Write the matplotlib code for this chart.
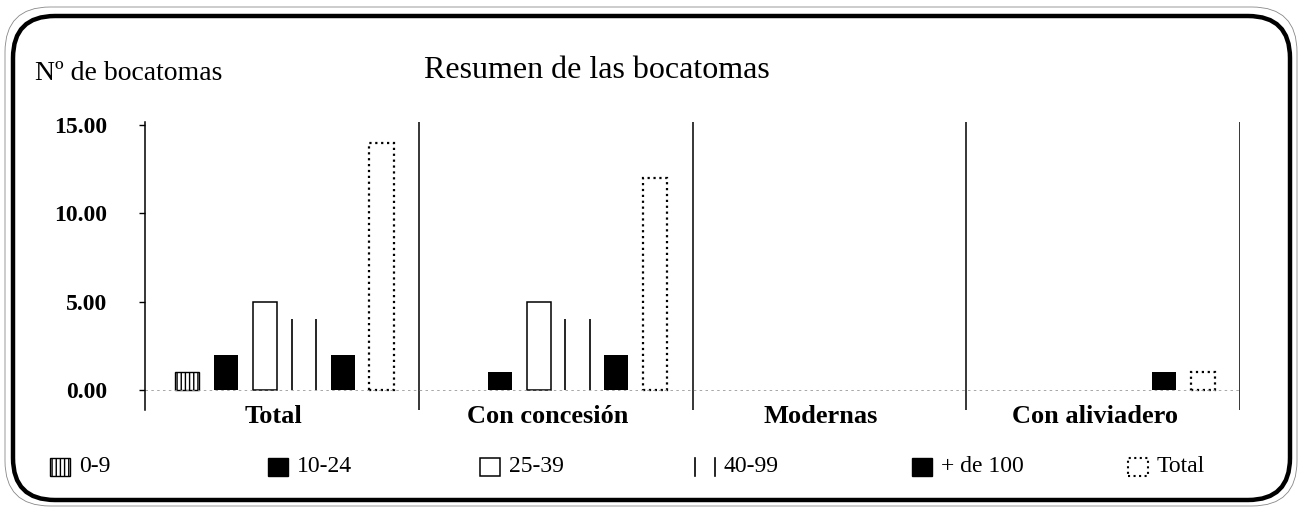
import matplotlib
matplotlib.use("Agg")
import matplotlib.pyplot as plt
from matplotlib.patches import FancyBboxPatch, Rectangle
from matplotlib.lines import Line2D
import numpy as np

plt.rcParams['font.family'] = ['Liberation Serif', 'DejaVu Serif']

# data
groups = ['Total', 'Con concesión', 'Modernas', 'Con aliviadero']
series = ['0-9', '10-24', '25-39', '40-99', '+ de 100', 'Total']
vals_0_9 = [1, 0, 0, 0]
vals_10_24 = [2, 1, 0, 0]
vals_25_39 = [5, 5, 0, 0]
vals_40_99 = [4, 4, 0, 0]
vals_100 = [2, 2, 0, 1]
vals_total = [14, 12, 0, 1]
yticks = [0, 5, 10, 15]

W, H = 1300, 509
fig = plt.figure(figsize=(13, 5.09), dpi=100)

# rounded frame
frame = FancyBboxPatch((0.13, 0.09), 12.77, 4.84, boxstyle="round,pad=0,rounding_size=0.42",
                       transform=fig.dpi_scale_trans, fill=False, lw=3.2, ec='black')
fig.add_artist(frame)
outer = FancyBboxPatch((0.05, 0.03), 12.92, 4.99, boxstyle="round,pad=0,rounding_size=0.45",
                       transform=fig.dpi_scale_trans, fill=False, lw=0.6, ec='#888888')
fig.add_artist(outer)

ax = fig.add_axes([145 / W, (H - 410) / H, (1240 - 145) / W, (410 - 122) / H])
ax.set_xlim(0, 4)
ax.set_ylim(-1.13, 15.17)

x = np.arange(len(groups))
off, step, bw = 0.11, 0.142, 0.088

def pos(i):
    return x + off + i * step

b0 = ax.bar(pos(0), vals_0_9, bw, align='edge', facecolor='white', edgecolor='black', hatch='||||', lw=1)
b1 = ax.bar(pos(1), vals_10_24, bw, align='edge', color='black')
b2 = ax.bar(pos(2), vals_25_39, bw, align='edge', facecolor='white', edgecolor='black', lw=1.1)
b3 = ax.bar(pos(3), vals_40_99, bw, align='edge', facecolor='none', edgecolor='none')
for r in b3:
    if r.get_height() > 0:
        ax.vlines([r.get_x(), r.get_x() + r.get_width()], 0, r.get_height(), color='black', lw=1.2)
b4 = ax.bar(pos(4), vals_100, bw, align='edge', color='black')
b5 = ax.bar(pos(5), vals_total, bw, align='edge', facecolor='white', edgecolor='black', lw=1.6, ls=':')
for bars in (b0, b1, b2, b3, b4, b5):
    for r in bars:
        if r.get_height() == 0:
            r.set_visible(False)

# group dividers
for g in range(1, 5):
    ax.axvline(g, color='black', lw=1.1)
ax.axhline(0, color='#999999', lw=0.6, ls=(0, (3, 4)))

for s in ['top', 'right', 'bottom']:
    ax.spines[s].set_visible(False)
ax.spines['left'].set_linewidth(1.1)
ax.set_xticks([])
ax.set_yticks(yticks)
ax.set_yticklabels(['%.2f' % v for v in yticks], fontsize=17, fontweight='bold')
ax.tick_params(axis='y', length=4, width=1, pad=23)

for i, g in enumerate(groups):
    ax.text(i + 0.47, -1.5, g, ha='center', va='center', fontsize=19, fontweight='bold', clip_on=False)

fig.text(35 / W, 1 - 74 / H, 'Nº de bocatomas', fontsize=20, va='center', ha='left')
fig.text(597 / W, 1 - 71 / H, 'Resumen de las bocatomas', fontsize=23, va='center', ha='center')

# legend
leg_x = [50, 268, 480, 695, 912, 1128]
sw, sh, ly = 20, 18, 467
for i, lab in enumerate(series):
    x0 = leg_x[i] / W
    y0 = 1 - (ly + sh / 2) / H
    w, h = sw / W, sh / H
    if i == 0:
        p = Rectangle((x0, y0), w, h, transform=fig.transFigure, facecolor='white', edgecolor='black', hatch='||||', lw=1)
        fig.add_artist(p)
    elif i in (1, 4):
        fig.add_artist(Rectangle((x0, y0), w, h, transform=fig.transFigure, color='black'))
    elif i == 2:
        fig.add_artist(Rectangle((x0, y0), w, h, transform=fig.transFigure, facecolor='white', edgecolor='black', lw=1.1))
    elif i == 3:
        fig.add_artist(Line2D([x0, x0], [y0, y0 + h], transform=fig.transFigure, color='black', lw=1.2))
        fig.add_artist(Line2D([x0 + w, x0 + w], [y0, y0 + h], transform=fig.transFigure, color='black', lw=1.2))
    else:
        fig.add_artist(Rectangle((x0, y0), w, h, transform=fig.transFigure, facecolor='white', edgecolor='black', lw=1.5, ls=':'))
    fig.text((leg_x[i] + sw + 9) / W, 1 - ly / H, lab, fontsize=17, va='center', ha='left')

fig.savefig('out.png', dpi=100)
